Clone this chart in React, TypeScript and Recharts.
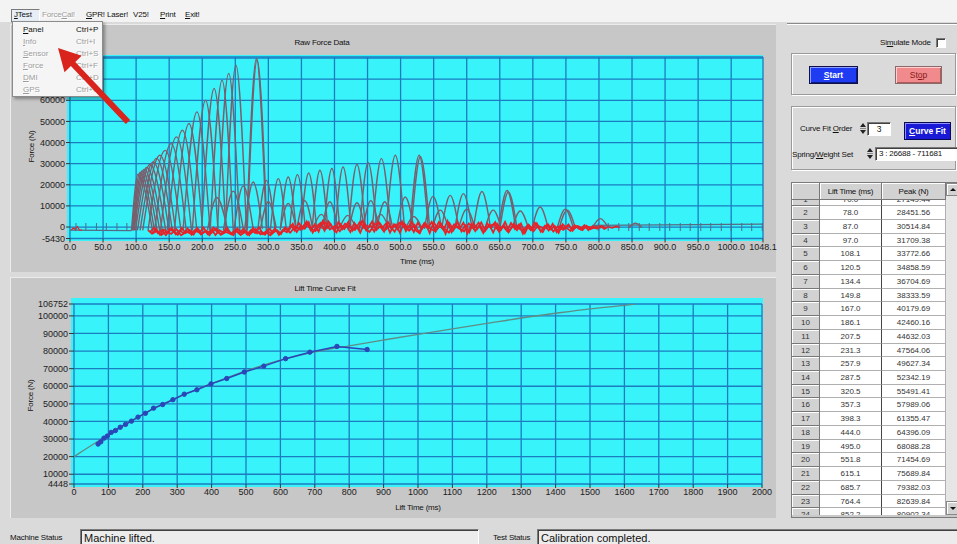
import React from 'react';
import { ComposedChart, Line, XAxis, YAxis, CartesianGrid, Scatter } from 'recharts';

const FONT = '"Liberation Sans", "DejaVu Sans", Arial, sans-serif';

// ---------------- Raw Force Data ----------------
const rawTimeTicks = [0, 50, 100, 150, 200, 250, 300, 350, 400, 450, 500, 550, 600, 650, 700, 750, 800, 850, 900, 950, 1000, 1048.1];
const rawForceTicks = [-5430, 0, 10000, 20000, 30000, 40000, 50000, 60000, 70000, 80000];
const rawForceDomain = [-5430, 80500];

// [start ms, peak ms, peak N, end ms]
const primaryImpacts = [
  [93, 103, 25000, 125], [94, 106, 25800, 128], [95, 109, 26500, 132], [96, 112, 27300, 136],
  [97, 116, 28200, 140], [99, 121, 29600, 145], [102, 126, 30800, 150], [106, 131, 32500, 155],
  [110, 136, 34000, 160], [118, 144, 36300, 168], [128, 153, 39500, 176], [137, 161, 42700, 184],
  [147, 170, 45800, 192], [158, 180, 49000, 201], [171, 192, 54500, 212], [185, 205, 60000, 224],
  [199, 218, 65600, 236], [212, 230, 69500, 247], [223, 240, 72700, 257], [235, 251, 76600, 267],
  [267, 282, 79800, 297], [268, 283, 79200, 298],
];
const secondBounces = [
  [208, 222, 14000, 238], [232, 247, 17000, 262], [248, 262, 19500, 277], [264, 277, 21300, 291],
  [284, 297, 22100, 310], [303, 315, 22900, 327], [318, 330, 23700, 342], [332, 344, 24800, 356],
  [349, 361, 25600, 373], [366, 378, 26900, 390], [384, 396, 27700, 408], [401, 413, 28400, 425],
  [421, 434, 29600, 447], [438, 451, 30500, 464], [457, 471, 32400, 485], [478, 492, 34000, 506],
  [514, 528, 34000, 542], [516, 530, 33300, 544],
];
const thirdBounces = [
  [288, 300, 12000, 312], [318, 330, 11200, 342], [343, 355, 12500, 367], [381, 393, 12000, 405],
  [422, 434, 11500, 446], [443, 455, 12500, 467], [464, 476, 12000, 488], [494, 507, 14200, 520],
  [536, 549, 14500, 562], [562, 575, 15000, 588], [582, 595, 15800, 608], [610, 623, 16800, 636],
  [648, 661, 17300, 674], [650, 663, 16600, 676],
];
const smallBounces = [
  [368, 380, 6000, 392], [408, 420, 5500, 432], [458, 470, 6000, 482], [508, 520, 5000, 532],
  [548, 560, 8000, 572], [588, 600, 8500, 612], [628, 640, 8000, 652], [669, 681, 7600, 693],
  [699, 711, 9500, 723], [737, 749, 8500, 761], [740, 752, 8000, 764], [790, 802, 4000, 814],
  [845, 855, 1800, 865],
];
const noiseTraceA = [
  [118, -1500], [124, -3200], [130, -800], [136, -3600], [142, -1200], [148, -2900], [154, -400], [160, -3400],
  [166, -1600], [172, -3000], [178, -700], [184, -3700], [190, -1900], [196, -2600], [202, -300], [208, -3300],
  [214, -1100], [220, -3800], [226, -1500], [232, -2700], [238, -500], [244, -3500], [250, -1800], [256, -3100],
  [262, -900], [268, -3600], [274, -1300], [280, -2800], [286, -200], [292, -3400], [298, -1700], [304, -3000],
  [310, -600], [316, -3700], [322, -1400], [328, -2500], [334, 800], [340, -1800], [346, 1900], [352, -900],
  [358, 2600], [364, -1500], [370, 1200], [376, -2200], [382, 2800], [388, -600], [394, 1500], [400, -1900],
  [406, 2300], [412, -1100], [418, 700], [424, -2400], [430, 2000], [436, -800], [442, 2900], [448, -1600],
  [454, 1100], [460, -2100], [466, 2500], [472, -500], [478, 1700], [484, -2600], [490, 1300], [496, -1300],
  [502, 2700], [508, -1900], [514, 900], [520, -2300], [526, 2100], [532, -1000], [538, 1600], [544, -2800],
  [550, 2300], [556, -700], [562, 1400], [568, -3200], [574, 1800], [580, -1400], [586, 2600], [592, -2000],
  [598, 800], [604, -2500], [610, 1900], [616, -900], [622, 2200], [628, -1700], [634, 1000], [640, -2600],
  [646, 1500], [652, -1200], [658, 2400], [664, -2100], [670, 600], [676, -1500], [682, 1700], [688, -2900],
  [694, 900], [700, -1100], [706, 1800], [712, -2200], [718, 500], [724, -1600], [730, 1500], [736, -2400],
  [742, 700], [748, -900], [754, 1200], [760, -1800], [766, 400], [772, -1100], [778, 900], [784, -1500],
  [790, 300], [796, -700], [802, 600], [808, -900], [814, 200], [820, -400], [826, 300], [832, -200],
];
const noiseTraceB = [
  [121, -2400], [127, -400], [133, -2900], [139, -1500], [145, -3900], [151, -800], [157, -2200], [163, -3700],
  [169, -500], [175, -2800], [181, -1400], [187, -3500], [193, -600], [199, -3100], [205, -2000], [211, -3900],
  [217, -300], [223, -2500], [229, -3300], [235, -1000], [241, -2300], [247, -3800], [253, -700], [259, -2700],
  [265, -1700], [271, -3900], [277, -400], [283, -3000], [289, -2100], [295, -3600], [301, -900], [307, -2600],
  [313, -1500], [319, -3300], [325, -200], [331, -1400], [337, 1500], [343, -2300], [349, 600], [355, -800],
  [361, 2300], [367, -2600], [373, 300], [379, 1900], [385, -1700], [391, 2600], [397, -400], [403, -2500],
  [409, 1400], [415, -900], [421, 2500], [427, -1800], [433, 600], [439, -2700], [445, 1800], [451, -400],
  [457, 2700], [463, -1500], [469, 300], [475, -2200], [481, 2400], [487, -800], [493, 1200], [499, -2700],
  [505, 1800], [511, -300], [517, 2500], [523, -1600], [529, -3000], [535, 1300], [541, -500], [547, 2400],
  [553, -2100], [559, 900], [565, -1400], [571, 2900], [577, -2500], [583, 400], [589, -800], [595, 2000],
  [601, -3000], [607, 1200], [613, -1900], [619, 600], [625, -2800], [631, 1700], [637, -500], [643, 2300],
  [649, -2200], [655, 300], [661, -1800], [667, 1900], [673, -900], [679, 1200], [685, -3100], [691, 400],
  [697, -1500], [703, 2000], [709, -600], [715, -2400], [721, 1100], [727, -1200], [733, 500], [739, -2700],
  [745, 1300], [751, -400], [757, -1900], [763, 900], [769, -700], [775, -1500], [781, 600], [787, -1000],
  [793, -200], [799, -800], [805, 400], [811, -500],
];
const noiseTraceC = [
  [125, -3000], [132, -1700], [138, -3800], [146, -2000], [153, -3300], [161, -1000], [168, -3900], [176, -2200],
  [183, -3100], [191, -800], [198, -3600], [206, -1800], [213, -3000], [221, -700], [228, -3700], [236, -2300],
  [243, -3300], [251, -1200], [258, -3800], [266, -2100], [273, -3200], [281, -900], [288, -3500], [296, -2400],
  [303, -3900], [311, -1600], [318, -2900], [326, -800], [333, -2700], [341, 400], [348, -1300], [356, 1800],
  [363, -300], [371, -1900], [378, 1000], [386, 2200], [393, -1200], [401, 500], [408, -2000], [416, 1600],
  [423, 200], [431, -1400], [438, 2300], [446, -600], [453, -2300], [461, 1200], [468, 2100], [476, -1500],
  [483, 600], [491, -2200], [498, 2000], [506, 300], [513, -1700], [521, 1100], [528, -2500], [536, 1900],
  [543, -300], [551, -1800], [558, 2400], [566, -600], [573, -2600], [581, 1300], [588, -400], [596, -2100],
  [603, 1700], [611, -1000], [618, 2100], [626, -2300], [633, 400], [641, 1400], [648, -1800], [656, 900],
  [663, -2500], [671, 1500], [678, -600], [686, -1700], [693, 1100], [701, -2000], [708, 700], [716, -800],
  [723, 1300], [731, -2100], [738, 300], [746, -1300], [753, 800], [761, -1000], [768, 500], [776, -700],
  [783, 200], [791, -500], [798, 300],
];
const startNoise = [[2, -1500], [5, -400], [8, -1200], [11, 200], [14, -1300], [18, -1600]];
const preImpactBaseline = [[0, -1500], [93, -1700]];
const settledBaseline = [[790, 800], [1048.1, 1400]];
const axisMinorTicks = [9, 24, 40, 55, 71, 86, 799, 814, 830, 845, 861, 876, 892, 907, 923, 938, 954, 969, 985, 1000, 1016, 1031, 1047];

// ---------------- Lift Time Curve Fit ----------------
const fitTimeTicks = [0, 100, 200, 300, 400, 500, 600, 700, 800, 900, 1000, 1100, 1200, 1300, 1400, 1500, 1600, 1700, 1800, 1900, 2000];
const fitForceTicks = [4448, 10000, 20000, 30000, 40000, 50000, 60000, 70000, 80000, 90000, 100000, 106752];
const fitForceDomain = [4448, 106752];
const liftTimes = [70.0, 78.0, 87.0, 97.0, 108.1, 120.5, 134.4, 149.8, 167.0, 186.1, 207.5, 231.3, 257.9, 287.5, 320.5, 357.3, 398.3, 444.0, 495.0, 551.8, 615.1, 685.7, 764.4, 852.2];
const peakForces = [27149.44, 28451.56, 30514.84, 31709.38, 33772.66, 34858.59, 36704.69, 38333.59, 40179.69, 42460.16, 44632.03, 47564.06, 49627.34, 52342.19, 55491.41, 57989.06, 61355.47, 64396.09, 68088.28, 71454.69, 75689.84, 79382.03, 82639.84, 80902.34];
const fitCurve = [
  [0, 20000], [100, 32400], [200, 44000], [300, 53500], [400, 61500], [500, 68800], [600, 74800], [700, 79500],
  [800, 83000], [900, 86300], [1000, 89500], [1100, 92600], [1200, 95700], [1300, 98800], [1400, 101500],
  [1500, 104000], [1600, 106000], [1632, 106752],
];

const ARC = '#7a5e6c';
const NOISE = '#e3252b';
const BASE = '#566a86';
const GRID = '#1c7cc0';
const CYAN = '#38f3fa';

const toPts = (arr: number[][]) => arr.map(([t, f]) => ({ t, f }));
const arcPts = (a: number[], b0: number, b1: number) => [
  { t: a[0], f: b0 },
  { t: a[1], f: a[2] },
  { t: a[3], f: b1 },
];

const tickStyle = { fontSize: 9, fill: '#1c1c1c', fontFamily: FONT };

const TickMark = (props: any) => {
  const { cx, cy } = props;
  if (cx == null || cy == null) return null;
  return <line x1={cx} x2={cx} y1={cy - 4} y2={cy + 4} stroke={BASE} strokeWidth={1} />;
};

function RawChart() {
  const groups: { arcs: number[][]; b0: number; b1: number; key: string }[] = [
    { arcs: primaryImpacts, b0: -1600, b1: -2200, key: 'p' },
    { arcs: secondBounces, b0: -1500, b1: -800, key: 's' },
    { arcs: thirdBounces, b0: -900, b1: -500, key: 'th' },
    { arcs: smallBounces, b0: -300, b1: -200, key: 'sm' },
  ];
  const noise = [noiseTraceC, noiseTraceB, noiseTraceA];
  return (
    <ComposedChart width={790} height={248} margin={{ top: 33, right: 37, bottom: 0, left: 0 }} style={{ fontFamily: FONT }}>
      <CartesianGrid stroke={GRID} strokeWidth={1.3} />
      <XAxis type="number" dataKey="t" domain={[0, 1048.1]} ticks={rawTimeTicks} interval={0} allowDataOverflow
        tickFormatter={(v: number) => v.toFixed(1)} tick={tickStyle} tickSize={4} tickMargin={1} height={33.5}
        axisLine={false} tickLine={{ stroke: '#333' }} />
      <YAxis type="number" dataKey="f" domain={rawForceDomain} ticks={rawForceTicks} interval={0} allowDataOverflow
        tick={tickStyle} tickSize={4} tickMargin={1} width={60} axisLine={false} tickLine={{ stroke: '#333' }} />
      <Line data={toPts(preImpactBaseline)} dataKey="f" stroke={BASE} strokeWidth={1.3} dot={false} activeDot={false} isAnimationActive={false} />
      <Line data={toPts(settledBaseline)} dataKey="f" stroke={BASE} strokeWidth={1.3} dot={false} activeDot={false} isAnimationActive={false} />
      <Scatter data={axisMinorTicks.map((t) => ({ t, f: 0 }))} dataKey="f" shape={TickMark} isAnimationActive={false} />
      {groups.flatMap((g) =>
        g.arcs.map((a, i) => (
          <Line key={g.key + i} data={arcPts(a, g.b0, g.b1)} dataKey="f" type="monotoneX" stroke={ARC}
            strokeWidth={1.4} dot={false} activeDot={false} isAnimationActive={false} />
        ))
      )}
      <Line data={toPts(startNoise)} dataKey="f" stroke={NOISE} strokeWidth={1.3} dot={false} activeDot={false} isAnimationActive={false} />
      {noise.map((n, i) => (
        <Line key={'n' + i} data={toPts(n)} dataKey="f" stroke={NOISE} strokeWidth={1.8} dot={false} activeDot={false} isAnimationActive={false} />
      ))}
    </ComposedChart>
  );
}

function FitChart() {
  const measured = liftTimes.map((t, i) => ({ t, f: peakForces[i] }));
  return (
    <ComposedChart width={790} height={240} margin={{ top: 26, right: 38, bottom: 0, left: 0 }} style={{ fontFamily: FONT }}>
      <CartesianGrid stroke={GRID} strokeWidth={1.3} />
      <XAxis type="number" dataKey="t" domain={[0, 2000]} ticks={fitTimeTicks} interval={0} allowDataOverflow
        tick={tickStyle} tickSize={4} tickMargin={1} height={34} axisLine={false} tickLine={{ stroke: '#333' }} />
      <YAxis type="number" dataKey="f" domain={fitForceDomain} ticks={fitForceTicks} interval={0} allowDataOverflow
        tick={tickStyle} tickSize={5} tickMargin={1} width={64} axisLine={false} tickLine={{ stroke: '#333' }} />
      <Line data={toPts(fitCurve)} dataKey="f" type="monotoneX" stroke="#5f8c86" strokeWidth={1.3} dot={false} activeDot={false} isAnimationActive={false} />
      <Line data={measured} dataKey="f" stroke="#2a46b8" strokeWidth={1.5}
        dot={{ r: 2.2, fill: '#2a46b8', stroke: '#2a46b8', strokeWidth: 1 }} activeDot={false} isAnimationActive={false} />
    </ComposedChart>
  );
}

const abs = (left: number, top: number, extra: React.CSSProperties = {}): React.CSSProperties => ({ position: 'absolute', left, top, ...extra });

const grayText: React.CSSProperties = { color: '#9c9c9c', textShadow: '1px 1px 0 #ffffff' };
const small: React.CSSProperties = { fontSize: 8, letterSpacing: -0.2, whiteSpace: 'nowrap' };

function Spinner({ left, top }: { left: number; top: number }) {
  return (
    <div style={abs(left, top, { width: 7, height: 13 })}>
      <div style={abs(0.5, 1, { width: 0, height: 0, borderLeft: '3px solid transparent', borderRight: '3px solid transparent', borderBottom: '4px solid #222' })} />
      <div style={abs(0.5, 6, { width: 6, height: 1, background: '#888' })} />
      <div style={abs(0.5, 8, { width: 0, height: 0, borderLeft: '3px solid transparent', borderRight: '3px solid transparent', borderTop: '4px solid #222' })} />
    </div>
  );
}

const sunken: React.CSSProperties = {
  borderTop: '1px solid #7a7a7a', borderLeft: '1px solid #7a7a7a', borderRight: '1px solid #fff', borderBottom: '1px solid #fff',
  boxShadow: 'inset 1px 1px 0 #404040',
};
const etched: React.CSSProperties = { border: '1px solid #9a9a9a', boxShadow: '1px 1px 0 #fff, inset 1px 1px 0 #fff' };

const ROW_H = 13.73;

export default function App() {
  const menuItems = [
    { label: <><u>P</u>anel</>, key: 'Ctrl+P', enabled: true },
    { label: <><u>I</u>nfo</>, key: 'Ctrl+I', enabled: false },
    { label: <><u>S</u>ensor</>, key: 'Ctrl+S', enabled: false },
    { label: <><u>F</u>orce</>, key: 'Ctrl+F', enabled: false },
    { label: <><u>D</u>MI</>, key: 'Ctrl+D', enabled: false },
    { label: <><u>G</u>PS</>, key: 'Ctrl+G', enabled: false },
  ];
  const rows = liftTimes.map((t, i) => ({ n: i + 1, t, p: peakForces[i] }));
  const cell = (extra: React.CSSProperties): React.CSSProperties => ({
    height: ROW_H, boxSizing: 'border-box', fontSize: 8, textAlign: 'center', lineHeight: ROW_H + 'px', color: '#333', whiteSpace: 'nowrap', ...extra,
  });
  const head = (extra: React.CSSProperties): React.CSSProperties => ({
    height: 17, background: '#d2d2d2', boxSizing: 'border-box', borderRight: '1px solid #777', borderBottom: '1px solid #777',
    boxShadow: 'inset 1px 1px 0 #fff', fontSize: 8, letterSpacing: -0.2, textAlign: 'center', lineHeight: '17px', whiteSpace: 'nowrap', ...extra,
  });

  return (
    <div style={{ position: 'fixed', left: 0, top: 0, width: 957, height: 544, background: '#dadada', overflow: 'hidden', fontFamily: FONT, color: '#111' }}>
      {/* menu bar */}
      <div style={abs(0, 0, { width: 957, height: 22, background: '#f3f3f3' })} />
      <div style={abs(11, 9, { width: 27, height: 12, ...sunken, boxShadow: 'none', background: '#e8eef6' })} />
      <div style={abs(14, 10, small)}><u>J</u>Test</div>
      <div style={abs(42, 10, { ...small, ...grayText })}>Force<u>C</u>al!</div>
      <div style={abs(86, 10, small)}><u>G</u>PR!</div>
      <div style={abs(107, 10, small)}>Laser!</div>
      <div style={abs(133, 10, small)}>V25!</div>
      <div style={abs(160, 10, small)}><u>P</u>rint</div>
      <div style={abs(185, 10, small)}><u>E</u>xit!</div>

      {/* top chart frame */}
      <div style={abs(10, 24, { width: 766, height: 248, background: '#c7c7c7', borderTop: '1px solid #ececec', borderLeft: '1px solid #ececec', boxSizing: 'border-box' })} />
      <div style={abs(272, 38, { width: 100, textAlign: 'center', ...small })}>Raw Force Data</div>
      <div style={abs(67, 55, { width: 696, height: 186, background: CYAN })} />
      <div style={abs(10, 24)}><RawChart /></div>
      <div style={abs(392, 257, { width: 50, textAlign: 'center', ...small })}>Time (ms)</div>
      <div style={abs(6, 142, { width: 50, textAlign: 'center', ...small, transform: 'rotate(-90deg)' })}>Force (N)</div>

      {/* bottom chart frame */}
      <div style={abs(10, 277, { width: 766, height: 241, background: '#c7c7c7', borderTop: '1px solid #ececec', borderLeft: '1px solid #ececec', boxSizing: 'border-box' })} />
      <div style={abs(270, 284, { width: 110, textAlign: 'center', ...small })}>Lift Time Curve Fit</div>
      <div style={abs(71, 298, { width: 692, height: 189, background: CYAN })} />
      <div style={abs(10, 278)}><FitChart /></div>
      <div style={abs(388, 503, { width: 60, textAlign: 'center', ...small })}>Lift Time (ms)</div>
      <div style={abs(5, 391, { width: 50, textAlign: 'center', ...small, transform: 'rotate(-90deg)' })}>Force (N)</div>

      {/* right panel */}
      <div style={abs(787, 23, { width: 172, height: 497, borderTop: '1px solid #8a8a8a', boxShadow: 'inset 0 1px 0 #fff' })} />
      <div style={abs(880, 38, small)}>Si<u>m</u>ulate Mode</div>
      <div style={abs(936, 38, { width: 8, height: 8, background: '#fff', ...sunken })} />

      <div style={abs(791, 53, { width: 163, height: 40, ...etched })} />
      <div style={abs(809, 66, { width: 47, height: 16, background: '#1f3cf2', border: '1px solid #10104a', boxShadow: 'inset 1px 1px 0 #8fa0ff, inset -1px -1px 0 #0a1a80', color: '#fff', fontSize: 8.5, fontWeight: 'bold', textAlign: 'center', lineHeight: '16px' })}><u>S</u>tart</div>
      <div style={abs(895, 66, { width: 45, height: 16, background: '#f08a8c', border: '1px solid #8a6a6a', boxShadow: 'inset 1px 1px 0 #ffd0d0, inset -1px -1px 0 #b05a5a', color: '#8a1a1a', fontSize: 8.5, textAlign: 'center', lineHeight: '16px' })}>St<u>o</u>p</div>

      <div style={abs(791, 106, { width: 163, height: 62, ...etched })} />
      <div style={abs(800, 124, small)}>Curve Fit <u>O</u>rder</div>
      <Spinner left={859} top={122} />
      <div style={abs(867, 122, { width: 22, height: 12, background: '#fff', ...sunken, fontSize: 8.5, textAlign: 'center', lineHeight: '12px' })}>3</div>
      <div style={abs(904, 122, { width: 45, height: 16, background: '#1a1ad6', border: '1px solid #0a0a50', boxShadow: 'inset 1px 1px 0 #8f8fff', color: '#fff', fontSize: 8.5, fontWeight: 'bold', textAlign: 'center', lineHeight: '16px', whiteSpace: 'nowrap' })}><u>C</u>urve Fit</div>
      <div style={abs(792, 150, small)}>Spring/<u>W</u>eight Set</div>
      <Spinner left={866} top={147} />
      <div style={abs(875, 147, { width: 82, height: 12, background: '#fff', ...sunken, ...small, lineHeight: '12px', overflow: 'hidden', paddingLeft: 3 })}>3 : 26688 - 711681</div>

      {/* table */}
      <div style={abs(791, 182, { width: 168, height: 334, border: '1px solid #7a7a7a', background: '#c9c9c9' })} />
      <div style={abs(792, 183, head({ width: 28 }))} />
      <div style={abs(820, 183, head({ width: 62 }))}>Lift Time (ms)</div>
      <div style={abs(882, 183, head({ width: 64 }))}>Peak (N)</div>
      <div style={abs(792, 200, { width: 154, height: 315, overflow: 'hidden' })}>
        {rows.map((r, i) => (
          <div key={r.n} style={abs(0, -7.5 + i * ROW_H, { width: 154, height: ROW_H })}>
            <div style={abs(0, 0, cell({ width: 28, background: '#d2d2d2', borderRight: '1px solid #777', borderBottom: '1px solid #777', boxShadow: 'inset 1px 1px 0 #fff' }))}>{r.n}</div>
            <div style={abs(28, 0, cell({ width: 62, background: '#fff', borderRight: '1px solid #444', borderBottom: '1px solid #b0b0b0' }))}>{r.t.toFixed(1)}</div>
            <div style={abs(90, 0, cell({ width: 64, background: '#fff', borderRight: '1px solid #b0b0b0', borderBottom: '1px solid #b0b0b0' }))}>{r.p.toFixed(2)}</div>
          </div>
        ))}
      </div>
      {/* scrollbar */}
      <div style={abs(946, 183, { width: 12, height: 332, background: '#e6e6e6' })} />
      <div style={abs(946, 183, { width: 12, height: 13, background: '#d2d2d2', boxSizing: 'border-box', border: '1px solid #888', boxShadow: 'inset 1px 1px 0 #fff' })}>
        <div style={abs(2.5, 4, { width: 0, height: 0, borderLeft: '3px solid transparent', borderRight: '3px solid transparent', borderBottom: '3px solid #111' })} />
      </div>
      <div style={abs(946, 501, { width: 12, height: 14, background: '#d2d2d2', boxSizing: 'border-box', border: '1px solid #888', boxShadow: 'inset 1px 1px 0 #fff' })}>
        <div style={abs(2.5, 5, { width: 0, height: 0, borderLeft: '3px solid transparent', borderRight: '3px solid transparent', borderTop: '3px solid #111' })} />
      </div>

      {/* status bar */}
      <div style={abs(10, 533, small)}>Machine Status</div>
      <div style={abs(80, 529, { width: 399, height: 16, background: '#ececec', ...sunken, fontSize: 11, lineHeight: '16px', paddingLeft: 3, boxSizing: 'border-box' })}>Machine lifted.</div>
      <div style={abs(493, 533, small)}>Test Status</div>
      <div style={abs(537, 529, { width: 421, height: 16, background: '#ececec', ...sunken, fontSize: 11, lineHeight: '16px', paddingLeft: 3, boxSizing: 'border-box' })}>Calibration completed.</div>

      {/* dropdown menu */}
      <div style={abs(12, 21, { width: 91, height: 76, background: '#f5f5f5', border: '1px solid #8c8c8c', boxShadow: '2px 2px 3px rgba(0,0,0,0.35)', boxSizing: 'border-box' })}>
        {menuItems.map((m, i) => (
          <div key={i} style={abs(0, 2 + i * 12, { width: 89, height: 12, fontSize: 8, lineHeight: '12px' })}>
            <span style={abs(10, 0, m.enabled ? {} : grayText)}>{m.label}</span>
            <span style={abs(63, 0, m.enabled ? {} : grayText)}>{m.key}</span>
          </div>
        ))}
      </div>

      {/* red arrow annotation */}
      <svg width={957} height={544} style={abs(0, 0, { pointerEvents: 'none' })}>
        <polygon points="130.2,119.9 75.3,61.9 81.7,55.8 58,48 64.5,72.2 70.9,66.1 125.8,124.1" fill="#d8241c" />
      </svg>
    </div>
  );
}
